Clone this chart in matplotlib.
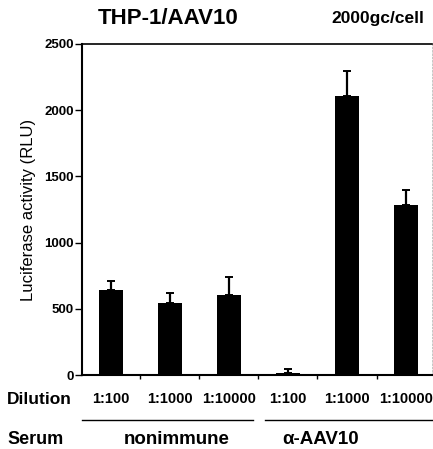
import matplotlib
matplotlib.use('Agg')
import matplotlib.pyplot as plt
import numpy as np

plt.rcParams['font.family'] = ['Liberation Sans', 'DejaVu Sans']

# datos
dilucion = ['1:100', '1:1000', '1:10000', '1:100', '1:1000', '1:10000']
suero = ['nonimmune', 'α-AAV10']
rlu = [642, 544, 604, 15, 2107, 1284]
err_sup = [68, 75, 136, 30, 190, 113]

x = np.arange(len(rlu))

fig = plt.figure(figsize=(4.33, 4.49), dpi=100)
ax = fig.add_axes([82/433, 1-375/449, 350/433, 331/449])

ax.bar(x, rlu, width=0.42, color='black', zorder=2)
ax.errorbar(x, rlu, yerr=[np.zeros(len(rlu)), err_sup], fmt='none',
            ecolor='black', elinewidth=1.6, capsize=3, capthick=1.4, zorder=3)

ax.set_xlim(-0.49, 5.44)
ax.set_ylim(0, 2500)
ax.set_yticks([0, 500, 1000, 1500, 2000, 2500])
ax.set_xticks([0.5, 1.5, 2.5, 3.5, 4.5])
ax.set_xticklabels([])
ax.tick_params(axis='y', direction='out', length=5, width=1, labelsize=9.5, pad=1)
ax.tick_params(axis='x', direction='out', length=3, width=1)
for lab in ax.get_yticklabels():
    lab.set_fontweight('bold')

ax.spines['left'].set_linewidth(1.5)
ax.spines['bottom'].set_linewidth(1.5)
ax.spines['top'].set_linewidth(1.2)
ax.spines['right'].set_linewidth(0.6)
ax.spines['right'].set_color('#bbbbbb')
ax.spines['right'].set_linestyle((0, (2, 2)))

ax.set_ylabel('Luciferase activity (RLU)', fontsize=12, labelpad=6)

# titulos
fig.text(168/433, 1-18/449, 'THP-1/AAV10', fontsize=16, fontweight='bold',
         ha='center', va='center')
fig.text(378/433, 1-18/449, '2000gc/cell', fontsize=12.5, fontweight='bold',
         ha='center', va='center')

# etiquetas de dilucion
trans = ax.get_xaxis_transform()
for xi, d in zip(x, dilucion):
    ax.text(xi, -0.074, d, transform=trans, ha='center', va='center',
            fontsize=10.5, fontweight='bold')
fig.text(39/433, 1-399/449, 'Dilution', fontsize=12.5, fontweight='bold',
         ha='center', va='center')

# lineas de grupo
fig.add_artist(plt.Line2D([82/433, 253/433], [1-420/449, 1-420/449], color='black', lw=1))
fig.add_artist(plt.Line2D([265/433, 433/433], [1-420/449, 1-420/449], color='black', lw=1))

fig.text(36/433, 1-440/449, 'Serum', fontsize=13, fontweight='bold',
         ha='center', va='center')
fig.text(177/433, 1-440/449, suero[0], fontsize=13.5, fontweight='bold',
         ha='center', va='center')
fig.text(321/433, 1-440/449, suero[1], fontsize=13.5, fontweight='bold',
         ha='center', va='center')

fig.savefig('out.png', dpi=100)
